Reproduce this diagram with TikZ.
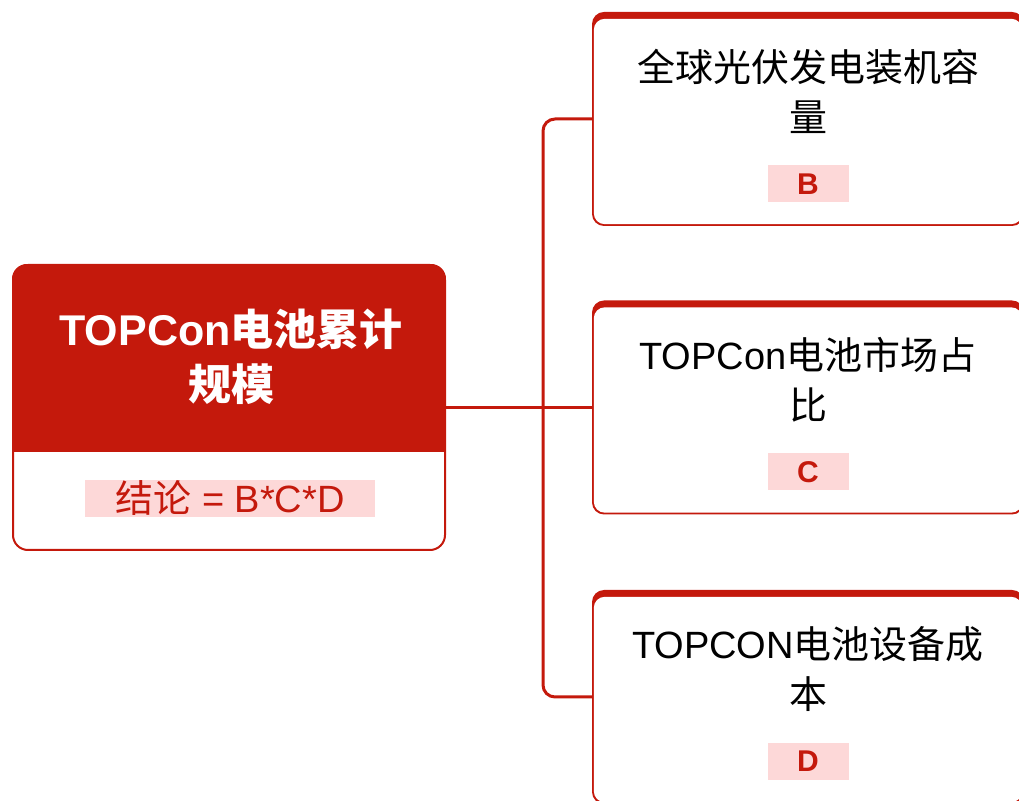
\documentclass[tikz,border=0pt]{standalone}
\usepackage{fontspec}
\setmainfont{Liberation Sans}
\newfontfamily\cjk{Noto Sans CJK SC}
\usepackage{tikz}

\definecolor{tpred}{RGB}{196,25,12}
\definecolor{tppink}{RGB}{253,216,216}

\begin{document}
\begin{tikzpicture}[x=1pt,y=1pt]

\tikzstyle{link}=[tpred,line width=3pt]
\tikzstyle{card}=[fill=tpred,rounded corners=12pt,minimum width=432pt,minimum height=214pt,inner sep=0pt]
\tikzstyle{hd}=[align=center,font=\fontsize{38}{50}\selectfont]
\tikzstyle{tag}=[fill=tppink,text=tpred,minimum width=81pt,minimum height=37pt,inner sep=0pt,font=\bfseries\fontsize{30}{34}\selectfont]

\useasboundingbox (0,0) rectangle (1019,800);

% main box
\node[draw=tpred,line width=2pt,fill=white,rounded corners=15pt,minimum width=432pt,minimum height=285pt,inner sep=0pt] (tot) at (229,392.5) {};
\begin{scope}
\clip[rounded corners=15pt] (tot.north west) rectangle (tot.south east);
\fill[tpred] (tot.north west) rectangle ([yshift=-44.5pt]tot.east);
\end{scope}
\node[align=center,text=white,font=\bfseries\fontsize{43}{55}\selectfont] (tottx) at (231,443) {TOPCon{\cjk 电池累计}\\{\cjk 规模}};
\node[fill=tppink,text=tpred,minimum width=290pt,minimum height=37pt,inner sep=0pt,font=\fontsize{38}{40}\selectfont] (res) at (230,301.5) {{\cjk 结论} = B*C*D};

% connectors
\node[shape=coordinate] (trunk) at (543,392.5){};
\node[shape=coordinate] (capw) at (592,681){};
\node[shape=coordinate] (sharew) at (592,392.5){};
\node[shape=coordinate] (costw) at (592,103){};
\draw[link] (tot.east) -- (sharew);
\draw[link,rounded corners=12pt] (capw) -| (trunk) |- (costw);

% right cards
\node[card] (cap) at (808,681) {};
\fill[white,rounded corners=11pt] ([shift={(2pt,-7pt)}]cap.north west) rectangle ([shift={(-2pt,2pt)}]cap.south east);
\node[hd] (captx) at (808,709) {{\cjk 全球光伏发电装机容}\\{\cjk 量}};
\node[tag] (capv) at (808,616) {B};

\node[card] (share) at (808,392.5) {};
\fill[white,rounded corners=11pt] ([shift={(2pt,-7pt)}]share.north west) rectangle ([shift={(-2pt,2pt)}]share.south east);
\node[hd] (sharetx) at (808,420) {TOPCon{\cjk 电池市场占}\\{\cjk 比}};
\node[tag] (sharev) at (808,328) {C};

\node[card] (cost) at (808,103) {};
\fill[white,rounded corners=11pt] ([shift={(2pt,-7pt)}]cost.north west) rectangle ([shift={(-2pt,2pt)}]cost.south east);
\node[hd] (costtx) at (808,131) {TOPCON{\cjk 电池设备成}\\{\cjk 本}};
\node[tag] (costv) at (808,39) {D};

\end{tikzpicture}
\end{document}
